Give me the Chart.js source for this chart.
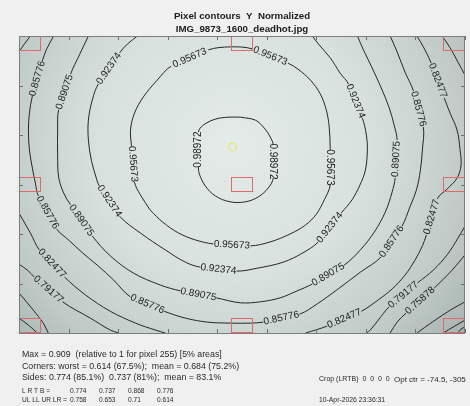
<!DOCTYPE html>
<html>
<head>
<meta charset="utf-8">
<script src="https://cdn.jsdelivr.net/npm/chart.js@4.4.1/dist/chart.umd.min.js"></script>
<style>
  html, body { margin: 0; background: #f0f0f0; }
  canvas { display: block; }
</style>
</head>
<body>
<canvas id="contours" width="470" height="406"></canvas>
<script>
// contour levels (normalized luminance)
const levels = ['0.98972', '0.95673', '0.92374', '0.89075', '0.85776', '0.82477', '0.79177', '0.75878', '0.72579', '0.6928', '0.65981'];

// contour traces in grid units (x 0..9, y 0..6 from top); *Labels = segment indices that carry the level text
const c98972 = [[4.47,1.64],[4.77,1.70],[4.95,1.86],[5.07,2.04],[5.13,2.20],[5.13,2.87],[5.03,3.07],[4.83,3.25],[4.57,3.35],[4.26,3.35],[3.96,3.23],[3.76,3.03],[3.64,2.79],[3.62,2.65],[3.62,1.94],[3.72,1.80],[3.96,1.68],[4.22,1.64],[4.47,1.64]];
const c98972Labels = [4, 13];

const c95673 = [[2.65,3.52],[2.45,3.21],[2.33,2.95],[2.27,2.22],[2.25,1.90],[2.33,1.56],[2.51,1.23],[2.79,0.89],[3.07,0.61],[3.82,0.28],[4.26,0.22],[4.71,0.26],[5.43,0.55],[5.63,0.67],[5.88,0.89],[6.08,1.17],[6.20,1.49],[6.26,1.84],[6.28,2.30],[6.28,3.01],[6.16,3.31],[6.00,3.60],[5.78,3.82],[5.47,4.00],[5.07,4.16],[4.67,4.24],[3.92,4.20],[3.56,4.12],[3.22,3.98],[2.90,3.76],[2.65,3.52]];
const c95673Labels = [2, 8, 11, 18, 25];

const c92374 = [[2.39,0.00],[2.19,0.16],[2.03,0.34],[1.60,0.97],[1.48,1.29],[1.40,1.70],[1.40,2.10],[1.46,2.51],[1.56,2.87],[1.62,3.03],[2.03,3.64],[2.45,3.98],[2.95,4.32],[3.36,4.57],[3.66,4.67],[4.39,4.75],[4.81,4.69],[5.33,4.57],[5.73,4.38],[6.04,4.16],[6.50,3.58],[6.72,3.31],[6.88,3.01],[6.99,2.71],[7.03,2.30],[7.01,2.00],[6.93,1.66],[6.65,0.97],[6.48,0.75],[6.28,0.44],[6.04,0.16],[5.92,0.00]];
const c92374Labels = [2, 9, 14, 19, 26];

const c89075 = [[1.40,0.00],[1.22,0.38],[1.04,0.77],[0.80,1.49],[0.78,1.90],[0.78,2.40],[0.80,2.85],[0.90,3.17],[1.04,3.41],[1.48,4.04],[1.84,4.44],[2.31,4.79],[2.85,5.03],[3.26,5.15],[3.98,5.29],[4.47,5.39],[4.87,5.37],[5.27,5.29],[5.61,5.15],[5.92,5.01],[6.56,4.63],[6.89,4.32],[7.17,3.96],[7.39,3.56],[7.53,3.15],[7.59,2.87],[7.63,2.10],[7.57,1.80],[7.47,1.45],[7.31,1.05],[7.11,0.61],[6.95,0.28],[6.83,0.00]];
const c89075Labels = [2, 8, 13, 19, 25];

const c85776 = [[0.70,0.00],[0.55,0.28],[0.47,0.51],[0.27,1.21],[0.21,1.56],[0.19,1.90],[0.21,2.30],[0.27,2.67],[0.33,2.97],[0.39,3.23],[0.76,3.90],[1.00,4.12],[1.28,4.38],[1.58,4.63],[1.91,4.93],[2.25,5.27],[2.93,5.56],[3.36,5.70],[3.80,5.78],[4.26,5.80],[4.67,5.80],[4.93,5.78],[5.66,5.62],[6.02,5.41],[6.44,5.11],[6.89,4.77],[7.31,4.46],[7.73,3.84],[7.89,3.45],[8.02,3.11],[8.10,2.71],[8.14,2.30],[8.16,1.84],[7.96,1.11],[7.79,0.73],[7.63,0.32],[7.49,0.00]];
const c85776Labels = [2, 9, 15, 21, 26, 32];

const c82477TopLeft = [[0.23,0.00],[0.11,0.16],[0.00,0.32]];
const c82477Left = [[0.00,3.58],[0.23,3.98],[0.41,4.32],[0.92,4.87],[1.34,5.23],[1.84,5.56],[2.35,5.80],[2.75,5.94],[2.95,6.00]];
const c82477LeftLabels = [2];
const c82477Right = [[5.78,6.00],[5.98,5.94],[6.22,5.86],[6.91,5.56],[7.25,5.33],[7.53,5.11],[7.79,4.83],[7.99,4.53],[8.14,4.24],[8.22,4.02],[8.44,3.29],[8.64,3.09],[8.84,2.87],[8.92,2.61],[8.90,2.30],[8.84,1.90],[8.70,1.56],[8.58,1.25],[8.32,0.55],[8.16,0.22],[8.03,0.00]];
const c82477RightLabels = [2, 9, 17];

const c79177TopRight = [[8.54,0.00],[8.70,0.24],[8.86,0.53],[9.00,0.79]];
const c79177Right = [[9.00,3.84],[8.86,4.08],[8.64,4.42],[8.36,4.73],[8.04,4.99],[7.47,5.47],[7.25,5.74],[7.09,5.94],[7.01,6.00]];
const c79177RightLabels = [4];
const c79177Left = [[0.00,4.61],[0.17,4.73],[0.31,4.87],[0.88,5.37],[1.44,5.70],[1.84,5.94],[2.01,6.00]];
const c79177LeftLabels = [2];

const c75878Right = [[9.00,4.42],[8.74,4.73],[8.38,5.09],[7.81,5.60],[7.63,5.78],[7.49,6.00]];
const c75878RightLabels = [2];
const c75878Left = [[0.00,5.19],[0.29,5.54],[0.49,5.80],[0.59,6.00]];

const c72579Left = [[0.00,5.70],[0.19,5.84],[0.37,6.00]];
const c72579Right = [[8.03,6.00],[8.34,5.78],[8.70,5.54],[9.00,5.37]];
const c69280Right = [[8.56,6.00],[8.76,5.88],[9.00,5.74]];
const c65981Right = [[8.86,6.00],[8.92,5.92],[9.00,5.88]];

// optical centre marker
const optCenter = [4.31, 2.24];

// 5% measurement regions (grid units, anchored inside the frame)
const regionCenters = [[0,0],[4.5,0],[9,0],[0,3],[4.5,3],[9,3],[0,6],[4.5,6],[9,6]];
const regionFraction = 0.05;

const titleLines = ['Pixel contours  Y  Normalized', 'IMG_9873_1600_deadhot.jpg'];
const statLines = [
  'Max = 0.909  (relative to 1 for pixel 255) [5% areas]',
  'Corners: worst = 0.614 (67.5%);  mean = 0.684 (75.2%)',
  'Sides: 0.774 (85.1%)  0.737 (81%);  mean = 83.1%'
];
const sideLabel = 'L R T B =';
const sideValues = ['0.774', '0.737', '0.868', '0.776'];
const cornerLabel = 'UL LL UR LR =';
const cornerValues = ['0.758', '0.653', '0.71', '0.614'];
const cropText = 'Crop (LRTB)  0  0  0  0';
const optText = 'Opt ctr = -74.5, -305';
const stampText = '10-Apr-2026 23:36:31';

const pieces = [
  [0, c98972, c98972Labels],
  [1, c95673, c95673Labels],
  [2, c92374, c92374Labels],
  [3, c89075, c89075Labels],
  [4, c85776, c85776Labels],
  [5, c82477TopLeft, []],
  [5, c82477Left, c82477LeftLabels],
  [5, c82477Right, c82477RightLabels],
  [6, c79177TopRight, []],
  [6, c79177Right, c79177RightLabels],
  [6, c79177Left, c79177LeftLabels],
  [7, c75878Right, c75878RightLabels],
  [7, c75878Left, []],
  [8, c72579Left, []],
  [8, c72579Right, []],
  [9, c69280Right, []],
  [10, c65981Right, []]
];

const FONT = '"Liberation Sans", Arial, sans-serif';

const datasets = pieces.map(([lv, pts, gaps]) => ({
  label: levels[lv],
  data: pts.map(([x, y]) => ({ x, y })),
  gaps: gaps,
  showLine: true,
  borderColor: '#262626',
  borderWidth: 1,
  pointRadius: 0,
  tension: 0.35,
  segment: {
    borderColor: ctx => gaps.includes(ctx.p0DataIndex) ? 'rgba(0,0,0,0)' : undefined
  }
}));

datasets.push({
  label: 'optical centre',
  data: [{ x: optCenter[0], y: optCenter[1] }],
  showLine: false,
  pointRadius: 4,
  pointBorderWidth: 1,
  pointBorderColor: '#e6e65a',
  pointBackgroundColor: 'rgba(0,0,0,0)'
});

// shaded field behind the contours
const fieldShade = {
  id: 'fieldShade',
  beforeDatasetsDraw(chart) {
    const { ctx, chartArea: a, scales: { x, y } } = chart;
    const cx = x.getPixelForValue(optCenter[0]), cy = y.getPixelForValue(optCenter[1]);
    const r = Math.hypot(a.right - cx, a.bottom - cy);
    const g = ctx.createRadialGradient(cx, cy, 0, cx, cy, r);
    g.addColorStop(0, '#e4ebe9');
    g.addColorStop(0.45, '#d8e1de');
    g.addColorStop(0.8, '#bfcac7');
    g.addColorStop(1, '#a7b3b0');
    ctx.save();
    ctx.fillStyle = g;
    ctx.fillRect(a.left, a.top, a.right - a.left, a.bottom - a.top);
    ctx.restore();
  }
};

// level text along each contour gap
const contourLabels = {
  id: 'contourLabels',
  afterDatasetsDraw(chart) {
    const { ctx, scales: { x, y } } = chart;
    ctx.save();
    ctx.font = '10px ' + FONT;
    ctx.fillStyle = '#1a1a1a';
    ctx.textAlign = 'center';
    ctx.textBaseline = 'middle';
    chart.data.datasets.forEach(ds => {
      (ds.gaps || []).forEach(i => {
        const a = ds.data[i], b = ds.data[i + 1];
        const x0 = x.getPixelForValue(a.x), y0 = y.getPixelForValue(a.y);
        const x1 = x.getPixelForValue(b.x), y1 = y.getPixelForValue(b.y);
        let ang = Math.atan2(y1 - y0, x1 - x0);
        if (x1 < x0) ang += Math.PI;
        ctx.save();
        ctx.translate((x0 + x1) / 2, (y0 + y1) / 2);
        ctx.rotate(ang);
        ctx.fillText(ds.label, 0, 0);
        ctx.restore();
      });
    });
    ctx.restore();
  }
};

// frame, inward ticks and the measurement boxes
const frame = {
  id: 'frame',
  afterDatasetsDraw(chart) {
    const { ctx, chartArea: a, scales: { x, y } } = chart;
    ctx.save();
    ctx.strokeStyle = '#e06a6a';
    ctx.lineWidth = 1;
    const w = (x.max - x.min) * regionFraction, h = (y.max - y.min) * regionFraction;
    regionCenters.forEach(([cx, cy]) => {
      const x0 = Math.min(Math.max(cx - w / 2, x.min), x.max - w);
      const y0 = Math.min(Math.max(cy - h / 2, y.min), y.max - h);
      const px0 = x.getPixelForValue(x0), px1 = x.getPixelForValue(x0 + w);
      const py0 = y.getPixelForValue(y0), py1 = y.getPixelForValue(y0 + h);
      ctx.strokeRect(Math.round(px0) + 0.5, Math.round(py0) + 0.5, Math.round(px1 - px0) - 1, Math.round(py1 - py0) - 1);
    });
    ctx.strokeStyle = '#6e6e6e';
    ctx.beginPath();
    x.ticks.forEach(t => {
      const px = Math.round(x.getPixelForValue(t.value)) + 0.5;
      ctx.moveTo(px, a.top); ctx.lineTo(px, a.top + 4);
      ctx.moveTo(px, a.bottom); ctx.lineTo(px, a.bottom - 4);
    });
    y.ticks.forEach(t => {
      const py = Math.round(y.getPixelForValue(t.value)) + 0.5;
      ctx.moveTo(a.left, py); ctx.lineTo(a.left + 4, py);
      ctx.moveTo(a.right, py); ctx.lineTo(a.right - 4, py);
    });
    ctx.stroke();
    ctx.strokeStyle = '#7d7d7d';
    ctx.strokeRect(Math.round(a.left) + 0.5, Math.round(a.top) + 0.5, Math.round(a.right - a.left) - 1, Math.round(a.bottom - a.top));
    ctx.restore();
  }
};

// title and statistics block
const captions = {
  id: 'captions',
  afterDraw(chart) {
    const { ctx, chartArea: a } = chart;
    ctx.save();
    ctx.fillStyle = '#1c1c1c';
    ctx.textBaseline = 'middle';
    ctx.textAlign = 'center';
    ctx.font = 'bold 9.7px ' + FONT;
    const mid = (a.left + a.right) / 2;
    ctx.fillText(titleLines[0], mid, 16.5);
    ctx.fillText(titleLines[1], mid, 29.5);

    ctx.textAlign = 'left';
    ctx.fillStyle = '#2a2a2a';
    ctx.font = '8.8px ' + FONT;
    statLines.forEach((s, i) => ctx.fillText(s, 22, 355 + i * 11.2));
    ctx.font = '6.6px ' + FONT;
    ctx.fillText(sideLabel, 22, 391.5);
    sideValues.forEach((v, i) => ctx.fillText(v, 70 + i * 29, 391.5));
    ctx.fillText(cornerLabel, 22, 400.5);
    cornerValues.forEach((v, i) => ctx.fillText(v, 70 + i * 29, 400.5));
    ctx.font = '7px ' + FONT;
    ctx.fillText(cropText, 319, 379.5);
    ctx.font = '8px ' + FONT;
    ctx.fillText(optText, 394, 379.5);
    ctx.font = '6.8px ' + FONT;
    ctx.fillText(stampText, 319, 400.5);
    ctx.restore();
  }
};

new Chart(document.getElementById('contours'), {
  type: 'scatter',
  data: { datasets: datasets },
  options: {
    responsive: false,
    animation: false,
    events: [],
    layout: { padding: { left: 19, right: 5, top: 36, bottom: 73 } },
    plugins: { legend: { display: false }, tooltip: { enabled: false } },
    scales: {
      x: { type: 'linear', display: false, min: 0, max: 9, ticks: { stepSize: 1 } },
      y: { type: 'linear', display: false, min: 0, max: 6, reverse: true, ticks: { stepSize: 1 } }
    }
  },
  plugins: [fieldShade, contourLabels, frame, captions]
});
</script>
</body>
</html>
